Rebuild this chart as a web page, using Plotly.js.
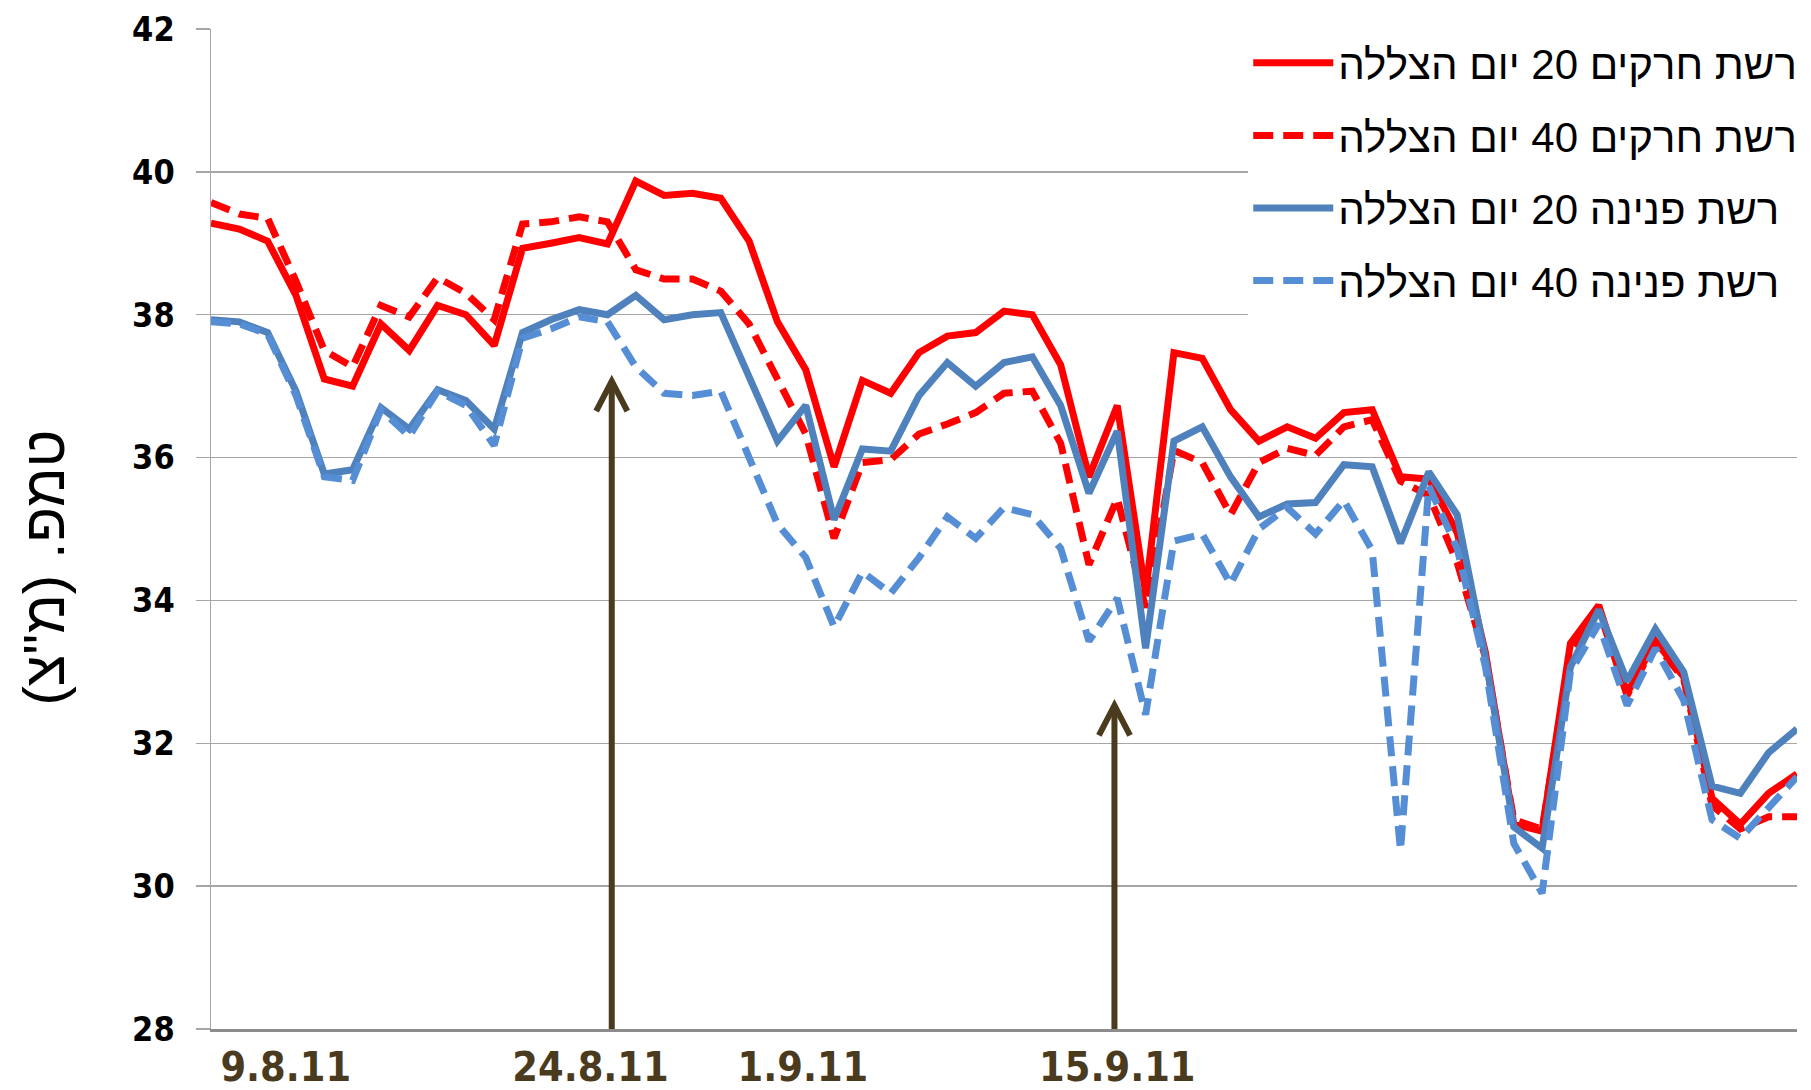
<!DOCTYPE html>
<html>
<head>
<meta charset="utf-8">
<script src="https://cdn.plot.ly/plotly-3.0.1.min.js"></script>
<style>html,body{margin:0;padding:0;background:#fff;}#chart{width:1811px;height:1090px;}</style>
</head>
<body>
<div id="chart"></div>
<script>
// ---- data (one value per measurement, in order) ----
const seriesNames = [
  'רשת חרקים 20 יום הצללה',
  'רשת חרקים 40 יום הצללה',
  'רשת פנינה 20 יום הצללה',
  'רשת פנינה 40 יום הצללה'
];
const insect20 = [39.28,39.2,39.03,38.27,37.1,37.0,37.87,37.5,38.13,38.0,37.57,38.93,39.0,39.08,38.99,39.87,39.67,39.7,39.63,39.03,37.9,37.23,35.87,37.08,36.9,37.47,37.7,37.75,38.05,38.0,37.3,35.73,36.73,34.1,37.47,37.39,36.67,36.23,36.43,36.27,36.63,36.67,35.73,35.7,34.95,33.27,30.87,30.77,33.4,33.93,32.7,33.43,32.93,31.23,30.87,31.3,31.57];
const insect40 = [39.57,39.41,39.35,38.47,37.5,37.27,38.13,37.97,38.52,38.3,37.93,39.27,39.3,39.37,39.3,38.63,38.5,38.5,38.33,37.87,37.1,36.33,34.87,35.93,35.97,36.33,36.47,36.63,36.9,36.93,36.2,34.5,35.43,33.9,36.1,35.93,35.2,35.93,36.13,36.03,36.43,36.53,35.67,35.47,34.53,33.2,30.93,30.8,33.27,33.87,32.67,33.4,32.9,31.13,30.8,30.97,30.97];
const pearl20 = [37.93,37.9,37.75,36.93,35.77,35.83,36.7,36.4,36.95,36.8,36.4,37.75,37.93,38.07,38.0,38.27,37.93,38.0,38.03,37.13,36.23,36.73,35.13,36.12,36.09,36.87,37.33,37.0,37.33,37.41,36.73,35.5,36.37,33.33,36.23,36.43,35.73,35.17,35.35,35.37,35.9,35.87,34.8,35.8,35.2,33.2,30.83,30.53,33.07,33.87,32.87,33.6,33.0,31.4,31.3,31.87,32.2];
const pearl40 = [37.9,37.87,37.73,36.87,35.73,35.68,36.67,36.3,36.93,36.73,36.17,37.67,37.8,37.97,37.9,37.27,36.9,36.87,36.93,36.0,35.07,34.6,33.63,34.4,34.1,34.6,35.17,34.87,35.3,35.2,34.73,33.43,34.03,32.4,34.83,34.93,34.23,35.0,35.3,34.93,35.4,34.7,30.5,35.6,34.73,33.07,30.6,29.9,33.0,33.67,32.53,33.33,32.6,30.93,30.67,31.1,31.53];
const dateLabels = ['9.8.11', '24.8.11', '1.9.11', '15.9.11'];
const yTitle = 'טמפ. (מ"צ)';

// ---- placement of date labels and arrows (measurement index / value) ----
const labelPos = [2.64, 13.4, 20.9, 32.0];
const arrowX = [14.15, 31.9];
const arrowTip = [37.07, 32.53];

const idx = insect20.map((_, i) => i);
const RED = '#ff0000', BLUE = '#4f81bd', LBLUE = '#558ed5', BROWN = '#4a3a1e';
const DASH = '20px,10px';
const NARROW = '"Liberation Sans Narrow", "DejaVu Sans Condensed", "Arial Narrow", sans-serif';
const HEB = '"Liberation Sans", Arial, sans-serif';

const specs = [
  {y: insect20, color: RED, dash: 'solid'},
  {y: insect40, color: RED, dash: DASH},
  {y: pearl20, color: BLUE, dash: 'solid'},
  {y: pearl40, color: LBLUE, dash: DASH}
];
const traces = specs.map((s, k) => ({
  type: 'scatter', mode: 'lines', x: idx, y: s.y, name: seriesNames[k],
  legendgroup: 'g' + k,
  line: {color: s.color, width: 7, dash: s.dash}
}));

const shapes = [];
arrowX.forEach((ax, k) => {
  shapes.push({type: 'line', xref: 'x', yref: 'y', x0: ax, x1: ax, y0: 28, y1: arrowTip[k],
               line: {color: BROWN, width: 6}});
  shapes.push({type: 'path', xref: 'x', yref: 'y',
               path: `M${ax - 0.55},${arrowTip[k] - 0.42} L${ax},${arrowTip[k]} L${ax + 0.55},${arrowTip[k] - 0.42}`,
               line: {color: BROWN, width: 6}});
});

const layout = {
  width: 1811, height: 1090,
  margin: {l: 211, r: 9, t: 29, b: 61},
  paper_bgcolor: '#fff', plot_bgcolor: '#fff',
  showlegend: true,
  xaxis: {
    range: [0, 56], showgrid: false, zeroline: false,
    showline: true, linecolor: '#8c8c8c', linewidth: 3,
    tickmode: 'array', tickvals: labelPos, ticktext: dateLabels, ticks: '',
    ticklabelstandoff: 0,
    tickfont: {family: NARROW, size: 41, color: BROWN, weight: 'bold'}
  },
  yaxis: {
    range: [28, 42], tick0: 28, dtick: 2, zeroline: false,
    showgrid: true, gridcolor: '#a6a6a6', gridwidth: 1.5,
    showline: true, linecolor: '#a6a6a6', linewidth: 1.5,
    ticks: 'outside', ticklen: 14, tickwidth: 1.5, tickcolor: '#a6a6a6',
    ticklabelstandoff: 14,
    tickfont: {family: NARROW, size: 34, color: '#000', weight: 'bold'}
  },
  annotations: [{
    text: yTitle, xref: 'paper', yref: 'paper', x: -0.1056, y: 0.461,
    xanchor: 'center', yanchor: 'middle', textangle: -90, showarrow: false,
    font: {family: HEB, size: 58, color: '#000'}
  }],
  legend: {
    x: 0.654, xanchor: 'left', y: 1.0, yanchor: 'top',
    bgcolor: '#fff', borderwidth: 0,
    font: {family: HEB, size: 42, color: '#000'},
    itemwidth: 80, traceorder: 'grouped', tracegroupgap: 15
  },
  shapes: shapes
};

Plotly.newPlot('chart', traces, layout, {staticPlot: true, displayModeBar: false});
</script>
</body>
</html>
